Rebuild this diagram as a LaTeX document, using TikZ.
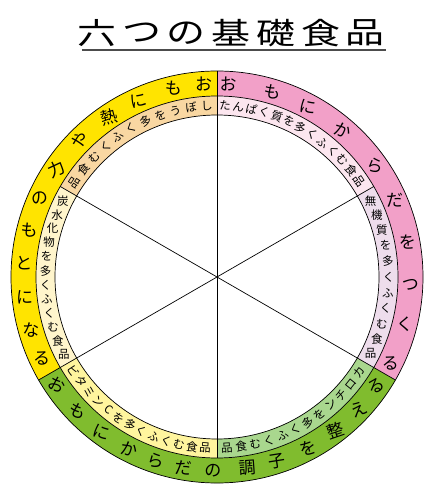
\documentclass[tikz,border=0pt]{standalone}
\usepackage{fontspec}
\setmainfont{Noto Sans CJK JP}
\usepackage{tikz}
\usetikzlibrary{calc}
\definecolor{outeryellow}{HTML}{FFE400}
\definecolor{outerpink}{HTML}{F2A0C8}
\definecolor{outergreen}{HTML}{80BC2E}
\definecolor{peach}{HTML}{F9D7A2}
\definecolor{lightpink}{HTML}{FCE6EF}
\definecolor{lavender}{HTML}{EEDDEC}
\definecolor{cream}{HTML}{FFF5CC}
\definecolor{paleyellow}{HTML}{FFF59E}
\definecolor{lightgreen}{HTML}{A9D78E}

\begin{document}
\begin{tikzpicture}[x=1pt,y=1pt,
    titlechar/.style={font=\fontsize{30}{30}\selectfont, xscale=1.3, inner sep=0pt},
    outerchar/.style={font=\fontsize{17}{17}\selectfont, inner sep=0pt},
    innerchar/.style={font=\fontsize{11.5}{11.5}\selectfont, inner sep=0pt},
    ringline/.style={line width=0.7pt}]
    \useasboundingbox (-217,-217) rectangle (216,277);

    % title
    \foreach \c [count=\i] in {六,つ,の,基,礎,食,品}
        \node [titlechar] (t\i) at ({97+44.7*(\i-1)-217},244) {\c};
    \draw [line width=1.2pt, black!70] (-135,227) -- (169,227);

    % outer ring
    \foreach \a/\b/\col in {90/210/outeryellow, 210/330/outergreen, -30/90/outerpink}
        \fill [\col] (\a:206) arc[start angle=\a, end angle=\b, radius=206]
            -- (\b:181) arc[start angle=\b, end angle=\a, radius=181] -- cycle;

    % inner ring
    \foreach \a/\b/\col in {90/150/peach, 150/210/cream, 210/270/paleyellow,
                            270/330/lightgreen, -30/30/lavender, 30/90/lightpink}
        \fill [\col] (\a:181) arc[start angle=\a, end angle=\b, radius=181]
            -- (\b:162) arc[start angle=\b, end angle=\a, radius=162] -- cycle;

    \foreach \r in {206,181,162}
        \draw [ringline] (0,0) circle[radius=\r];
    \foreach \a in {90,210,330}
        \draw [ringline] (\a:162) -- (\a:206);
    \foreach \a in {30,150,270}
        \draw [ringline] (\a:162) -- (\a:181);

    % six sectors
    \foreach \a in {30,90,150}
        \draw [ringline] (\a:162) -- (\a+180:162);

    % outer texts
    \foreach \a/\r/\c [count=\i] in {94/0/お, 103/0/も, 114/12/に, 124/15/熱, 135/35/や,
            146/25/力, 156/10/の, 166/0/も, 176/0/と, 186/0/に, 196/0/な, 205/0/る}
        \node [outerchar, rotate=\r] (y\i) at (\a:193.5) {\c};
    \foreach \a/\r/\c [count=\i] in {86.7/0/お, 73.4/-5/も, 61.8/-10/に, 49.3/-20/か,
            35.2/-15/ら, 23.4/0/だ, 10.4/0/を, -2.3/0/つ, -14.2/0/く, -26.4/0/る}
        \node [outerchar, rotate=\r] (k\i) at (\a:193.5) {\c};
    \foreach \a/\r/\c [count=\i] in {214/-28/お, 224/-23/も, 233.5/-18/に, 243/-13/か,
            251.7/-9/ら, 260/-5/だ, 268.8/0/の, 279/4/調, 288/9/子, 298/14/を,
            307.6/19/整, 317/23/え, 325.5/28/る}
        \node [outerchar, rotate=\r] (g\i) at (\a:193.5) {\c};

    % inner texts
    \foreach \c [count=\i] in {し,ぼ,う,を,多,く,ふ,く,む,食,品}
        \node [innerchar, rotate={3.4+5.3*(\i-1)}] (fat\i) at ({93.4+5.3*(\i-1)}:171.5) {\c};
    \foreach \c [count=\i] in {た,ん,ぱ,く,質,を,多,く,ふ,く,む,食,品}
        \node [innerchar, rotate={-2.7-4.44*(\i-1)}] (pro\i) at ({87.3-4.44*(\i-1)}:171.5) {\c};
    \foreach \c [count=\i] in {無,機,質,を,多,く,ふ,く,む,食,品}
        \node [innerchar] (min\i) at ({26.4-5.28*(\i-1)}:171.5) {\c};
    \foreach \c [count=\i] in {炭,水,化,物,を,多,く,ふ,く,む,食,品}
        \node [innerchar] (carb\i) at ({153.9+4.8*(\i-1)}:171.5) {\c};
    \foreach \c [count=\i] in {ビ,タ,ミ,ン,C,を,多,く,ふ,く,む,食,品}
        \node [innerchar, rotate={-56.8+4.4*(\i-1)}] (vit\i) at ({213.2+4.4*(\i-1)}:171.5) {\c};
    \foreach \c [count=\i] in {カ,ロ,チ,ン,を,多,く,ふ,く,む,食,品}
        \node [innerchar, rotate={56.1-4.8*(\i-1)}] (caro\i) at ({326.1-4.8*(\i-1)}:171.5) {\c};

\end{tikzpicture}
\end{document}
